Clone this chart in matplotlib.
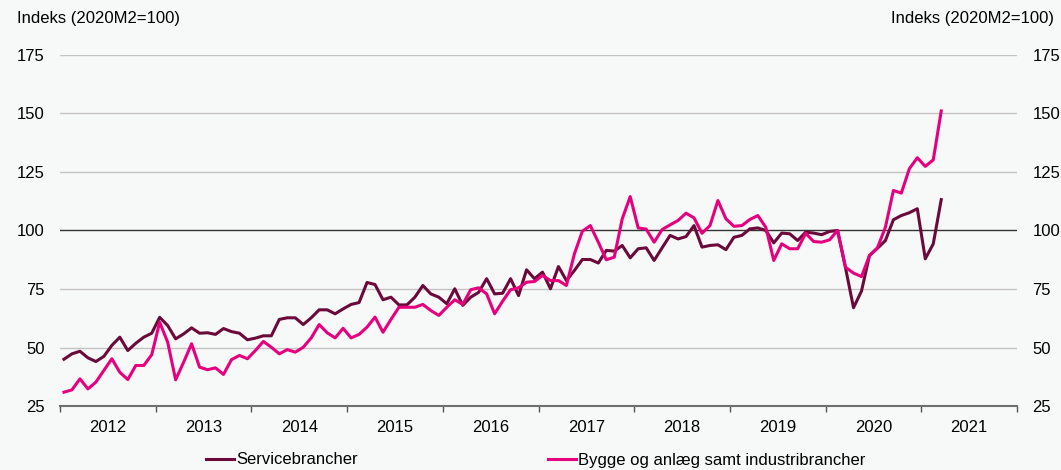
import numpy as np
import matplotlib
matplotlib.use("Agg")
import matplotlib.pyplot as plt
from matplotlib.ticker import FixedLocator, NullFormatter

plt.rcParams['font.family'] = ['Liberation Sans', 'DejaVu Sans']

# monthly index, Jan 2012 - Mar 2021 (2020M2 = 100)
years = [str(y) for y in range(2012, 2022)]
service = [45, 47.3, 48.4, 45.6, 44, 46.2, 50.9, 54.4, 48.7, 51.8, 54.4, 56.1,
           62.9, 59.4, 53.7, 55.8, 58.4, 56.1, 56.3, 55.6, 58.1, 56.8, 56.1, 53.3,
           54, 55, 55, 62, 62.7, 62.7, 59.8, 62.7, 66.1, 66.1, 64.4, 66.5,
           68.4, 69.2, 77.8, 76.9, 70.4, 71.5, 68.2, 68.2, 71.5, 76.5, 72.9, 71.5,
           68.7, 75.1, 68, 71.5, 73.6, 79.4, 72.9, 73.2, 79.4, 72.2, 83.2, 79.4,
           82.2, 75.1, 84.6, 78.6, 82.9, 87.6, 87.6, 86.1, 91.5, 91.2, 93.6, 88.3,
           92.2, 92.6, 87.2, 92.6, 97.9, 96.4, 97.4, 102.1, 92.9, 93.6, 93.9, 91.8,
           97.1, 97.9, 100.7, 101.1, 100, 94.7, 98.9, 98.6, 95.7, 99.3, 98.9, 98.2,
           99.6, 100, 84, 67, 74.1, 89.3, 92.4, 95.7, 104.6, 106.4, 107.6, 109.3,
           87.9, 94.3, 113.2]
industri = [30.9, 31.9, 36.6, 32.3, 35.2, 40.2, 45.2, 39.4, 36.3, 42.3, 42.3, 46.9,
            60.8, 52.3, 36.2, 43.7, 51.6, 41.6, 40.5, 41.3, 38.5, 44.8, 46.6, 45.2,
            48.7, 52.6, 50.1, 47.3, 49.1, 48, 50.1, 54.1, 59.8, 56.3, 54.1, 58.2,
            54.1, 55.6, 58.7, 63, 56.5, 62, 67.2, 67.2, 67.2, 68.4, 65.8, 63.7,
            67.2, 70.4, 68.4, 74.7, 75.5, 72.9, 64.4, 69.8, 74.7, 75.5, 77.9, 78.2,
            80.8, 78.6, 78.6, 76.5, 90, 99.7, 102.1, 95, 87.5, 88.6, 105, 114.5,
            101.1, 100.6, 95, 100.4, 102.4, 104.3, 107.4, 105.4, 98.8, 102.1, 112.8, 105,
            101.8, 102.1, 104.7, 106.4, 101.4, 87.2, 94.3, 92.2, 92.2, 98.8, 95.3, 95,
            96, 100, 84.3, 81.8, 80.3, 89.3, 92.6, 101.4, 117.1, 116, 126.4, 131.1,
            127.4, 130.2, 151.1]
yticks = [25, 50, 75, 100, 125, 150, 175]

bg = '#f7f8f8'
dark = '#6b0a3a'
pink = '#e6007e'
fs = 12

fig = plt.figure(figsize=(10.61, 4.70), dpi=100, facecolor=bg)
ax = fig.add_axes([60/1061, 1-406/470, 957/1061, 351/470], facecolor=bg)

x = np.arange(len(service)) + 0.5
ax.plot(x, service, color=dark, lw=2.2, label='Servicebrancher', zorder=3)
ax.plot(x, industri, color=pink, lw=2.2, label='Bygge og anlæg samt industribrancher', zorder=3)

ax.set_xlim(0, 120)
ax.set_ylim(25, 175)

for v in yticks[1:]:
    ax.axhline(v, color='#333333' if v == 100 else '#c4c4c4', lw=1.0, zorder=1)

for s in ['top', 'left', 'right']:
    ax.spines[s].set_visible(False)
ax.spines['bottom'].set_color('#6e6e6e')
ax.spines['bottom'].set_linewidth(1.5)

ax.xaxis.set_major_locator(FixedLocator(np.arange(0, 121, 12)))
ax.xaxis.set_major_formatter(NullFormatter())
ax.xaxis.set_minor_locator(FixedLocator(np.arange(6, 120, 12)))
ax.set_xticklabels(years, minor=True)
ax.tick_params(axis='x', which='major', length=4, width=1, color='#555555')
ax.tick_params(axis='x', which='minor', length=0, pad=10, labelsize=fs)

ax.set_yticks(yticks)
ax.tick_params(axis='y', length=0, pad=11, labelsize=fs, labelright=True, right=False)

fig.text(17/1061, 1-18/470, 'Indeks (2020M2=100)', fontsize=fs, va='center', ha='left')
fig.text(1054/1061, 1-18/470, 'Indeks (2020M2=100)', fontsize=fs, va='center', ha='right')

fig.legend(loc='center left', bbox_to_anchor=(206/1061, 1-460/470), ncol=2, frameon=False,
           fontsize=fs, handlelength=1.7, handletextpad=0.1, columnspacing=11.4,
           borderpad=0, borderaxespad=0)

fig.savefig('out.png', dpi=100, facecolor=bg)
